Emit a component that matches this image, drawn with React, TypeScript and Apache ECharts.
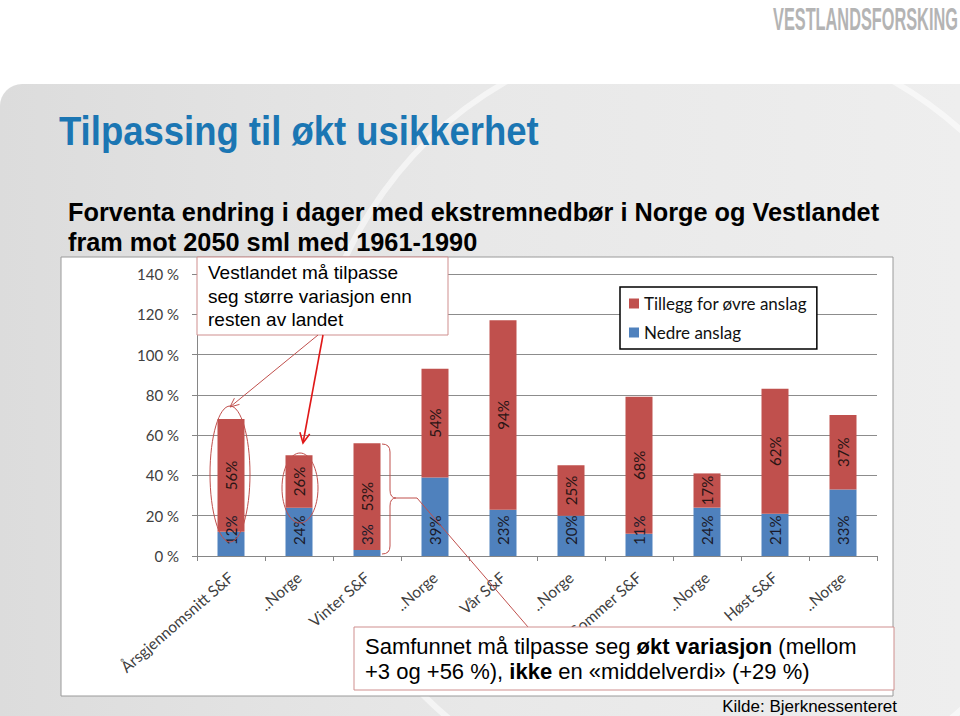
import React, { useEffect, useRef } from 'react';
import * as echarts from 'echarts';

const categories = [
  'Årsgjennomsnitt S&F', '..Norge', 'Vinter S&F', '..Norge', 'Vår S&F',
  '..Norge', 'Sommer S&F', '..Norge', 'Høst S&F', '..Norge',
];
const lowerEstimate = [12, 24, 3, 39, 23, 20, 11, 24, 21, 33];
const upperAddition = [56, 26, 53, 54, 94, 25, 68, 17, 62, 37];
const seriesNames = ['Nedre anslag', 'Tillegg for øvre anslag'];
const yMin = 0;
const yMax = 140;
const yStep = 20;

const ARIAL = '"Liberation Sans", Arial, sans-serif';
const CALIBRI = 'Lato, "Open Sans", sans-serif';

echarts.graphic.registerShape(
  'brace',
  echarts.graphic.extendPath(
    'M382,444 Q390,444 390,452 L390,490 Q390,498 396,498 Q390,498 390,506 L390,546 Q390,554 382,554',
    {}
  )
);

export default function App() {
  const ref = useRef<HTMLDivElement>(null);
  useEffect(() => {
    if (!ref.current) return;
    const chart = echarts.init(ref.current, null, { renderer: 'svg' });
    const pink = '#cf8f8e';
    const option: any = {
      animation: false,
      backgroundColor: '#ffffff',
      grid: { left: 197, right: 83, top: 274, bottom: 160 },
      legend: {
        data: ['Tillegg for øvre anslag', 'Nedre anslag'],
        orient: 'vertical',
        left: 620,
        top: 287,
        itemWidth: 10,
        itemHeight: 10,
        itemGap: 12,
        icon: 'rect',
        padding: [8, 10, 8, 9],
        borderColor: '#000',
        borderWidth: 1.5,
        backgroundColor: '#fff',
        textStyle: { fontFamily: CALIBRI, fontSize: 17, color: '#111' },
      },
      xAxis: {
        type: 'category',
        data: categories,
        axisLine: { lineStyle: { color: '#868686' } },
        axisTick: { show: true, length: 5, lineStyle: { color: '#868686' } },
        axisLabel: {
          interval: 0,
          rotate: 41,
          margin: 19,
          fontFamily: CALIBRI,
          fontSize: 15.5,
          color: '#404040',
        },
      },
      yAxis: {
        type: 'value',
        min: yMin,
        max: yMax,
        interval: yStep,
        axisLine: { show: true, lineStyle: { color: '#868686' } },
        axisTick: { show: true, length: 5, lineStyle: { color: '#868686' } },
        splitLine: { lineStyle: { color: '#8c8c8c', width: 1 } },
        axisLabel: {
          formatter: '{value} %',
          margin: 18,
          fontFamily: CALIBRI,
          fontSize: 15,
          color: '#404040',
        },
      },
      series: [
        {
          name: seriesNames[0],
          type: 'bar',
          stack: 'total',
          barWidth: 27,
          data: lowerEstimate,
          itemStyle: { color: '#4f81bd' },
          label: {
            show: true,
            position: 'insideBottom',
            distance: 11,
            rotate: 90,
            align: 'left',
            verticalAlign: 'middle',
            formatter: '{c}%',
            fontFamily: CALIBRI,
            fontSize: 15,
            color: '#1a1a2a',
          },
        },
        {
          name: seriesNames[1],
          type: 'bar',
          stack: 'total',
          barWidth: 27,
          data: upperAddition,
          itemStyle: { color: '#c0504d' },
          label: {
            show: true,
            position: 'inside',
            rotate: 90,
            formatter: '{c}%',
            fontFamily: CALIBRI,
            fontSize: 15,
            color: '#2a1515',
          },
        },
      ],
      graphic: {
        elements: [
          {
            type: 'rect', z: -100, silent: true,
            shape: { x: 0, y: 84, width: 960, height: 632, r: [22, 0, 0, 0] },
            style: {
              fill: new echarts.graphic.LinearGradient(0, 0, 1, 0, [
                { offset: 0, color: '#dcdcdc' },
                { offset: 0.5, color: '#e8e8e8' },
                { offset: 1, color: '#eeeeee' },
              ]),
            },
          },
          {
            type: 'circle', z: -99, silent: true,
            shape: { cx: 700, cy: 420, r: 390 },
            style: { fill: 'none', stroke: 'rgba(255,255,255,0.55)', lineWidth: 6 },
          },
          {
            type: 'rect', z: -50, silent: true,
            shape: { x: 61, y: 257, width: 832, height: 439 },
            style: { fill: '#ffffff', stroke: '#9a9a9a', lineWidth: 1 },
          },
          {
            type: 'text', z: 10, x: 773, y: 3, scaleX: 0.51,
            style: {
              text: 'VESTLANDSFORSKING', fontFamily: ARIAL, fontSize: 32, fontWeight: 'bold',
              fill: '#b4b4b4', textVerticalAlign: 'top', verticalAlign: 'top',
            },
          },
          {
            type: 'text', z: 10, x: 59, y: 131, scaleX: 0.89,
            style: {
              text: 'Tilpassing til økt usikkerhet', fontFamily: ARIAL, fontSize: 41,
              fontWeight: 'bold', fill: '#1b76b3', textVerticalAlign: 'middle', verticalAlign: 'middle',
            },
          },
          {
            type: 'text', z: 10, x: 68, y: 212,
            style: {
              text: 'Forventa endring i dager med ekstremnedbør i Norge og Vestlandet',
              fontFamily: ARIAL, fontSize: 25.3, fontWeight: 'bold', fill: '#000',
              textVerticalAlign: 'middle', verticalAlign: 'middle',
            },
          },
          {
            type: 'text', z: 10, x: 68, y: 242,
            style: {
              text: 'fram mot 2050 sml med 1961-1990',
              fontFamily: ARIAL, fontSize: 25.3, fontWeight: 'bold', fill: '#000',
              textVerticalAlign: 'middle', verticalAlign: 'middle',
            },
          },
          {
            type: 'rect', z: 50,
            shape: { x: 197, y: 257, width: 251, height: 78 },
            style: { fill: '#fff', stroke: pink, lineWidth: 1 },
          },
          {
            type: 'text', z: 51, x: 208, y: 261,
            style: {
              text: 'Vestlandet må tilpasse\nseg større variasjon enn\nresten av landet',
              fontFamily: ARIAL, fontSize: 19, lineHeight: 23.5, fill: '#000',
              textVerticalAlign: 'top', verticalAlign: 'top',
            },
          },
          {
            type: 'line', z: 50,
            shape: { x1: 318, y1: 335, x2: 230, y2: 407 },
            style: { stroke: '#c0504d', lineWidth: 1 },
          },
          {
            type: 'polyline', z: 50,
            shape: { points: [[239.5, 404.4], [230, 407], [234.4, 398.2]] },
            style: { stroke: '#c0504d', lineWidth: 1, fill: 'none' },
          },
          {
            type: 'line', z: 50,
            shape: { x1: 323, y1: 335, x2: 303, y2: 443 },
            style: { stroke: '#e01818', lineWidth: 1.6 },
          },
          {
            type: 'polyline', z: 50,
            shape: { points: [[309.7, 434.1], [303, 443], [299.9, 432.3]] },
            style: { stroke: '#e01818', lineWidth: 1.6, fill: 'none' },
          },
          {
            type: 'ellipse', z: 50,
            shape: { cx: 230, cy: 474, rx: 20, ry: 68 },
            style: { fill: 'none', stroke: '#c0504d', lineWidth: 1 },
          },
          {
            type: 'ellipse', z: 50,
            shape: { cx: 300, cy: 488, rx: 18, ry: 35 },
            style: { fill: 'none', stroke: '#c0504d', lineWidth: 1 },
          },
          {
            type: 'brace', z: 50, x: 0, y: 0,
            style: { fill: 'none', stroke: '#c0504d', lineWidth: 1 },
          },
          {
            type: 'polyline', z: 50,
            shape: { points: [[396, 498], [417, 498], [528, 627]] },
            style: { stroke: '#c0504d', lineWidth: 1, fill: 'none' },
          },
          {
            type: 'rect', z: 50,
            shape: { x: 354, y: 627, width: 540, height: 63 },
            style: { fill: '#fff', stroke: pink, lineWidth: 1 },
          },
          {
            type: 'text', z: 51, x: 365, y: 646,
            style: {
              text: 'Samfunnet må tilpasse seg {b|økt variasjon} (mellom',
              fontFamily: ARIAL, fontSize: 22, fill: '#000',
              textVerticalAlign: 'middle', verticalAlign: 'middle',
              rich: { b: { fontFamily: ARIAL, fontSize: 22, fontWeight: 'bold', fill: '#000' } },
            },
          },
          {
            type: 'text', z: 51, x: 365, y: 671,
            style: {
              text: '+3 og +56 %), {b|ikke} en «middelverdi» (+29 %)',
              fontFamily: ARIAL, fontSize: 22, fill: '#000',
              textVerticalAlign: 'middle', verticalAlign: 'middle',
              rich: { b: { fontFamily: ARIAL, fontSize: 22, fontWeight: 'bold', fill: '#000' } },
            },
          },
          {
            type: 'text', z: 51, x: 897, y: 706,
            style: {
              text: 'Kilde: Bjerknessenteret', fontFamily: ARIAL, fontSize: 17, fill: '#000',
              textAlign: 'right', align: 'right', textVerticalAlign: 'middle', verticalAlign: 'middle',
            },
          },
        ],
      },
    };
    chart.setOption(option);
    return () => chart.dispose();
  }, []);
  return (
    <div
      ref={ref}
      style={{ position: 'absolute', left: 0, top: 0, width: 960, height: 716 }}
    />
  );
}
